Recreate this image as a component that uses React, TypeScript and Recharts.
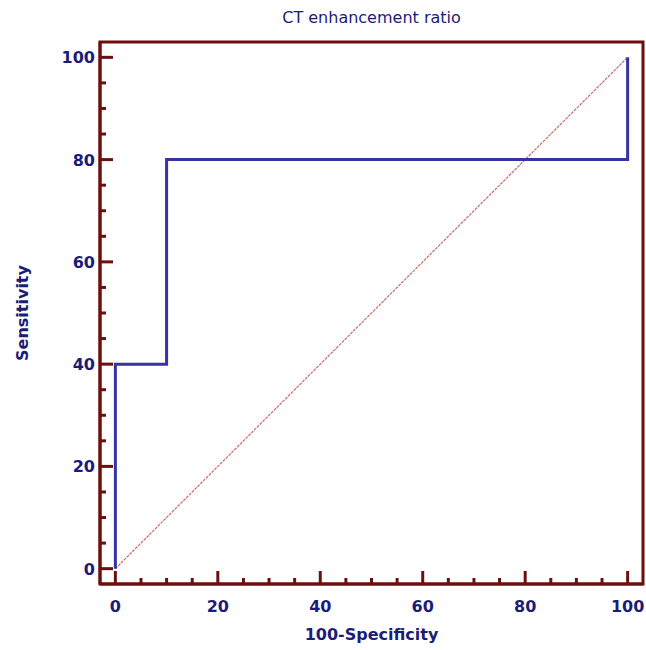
import { LineChart, Line, XAxis, YAxis, ReferenceArea } from 'recharts'

// ROC curve steps (100-Specificity, Sensitivity)
const rocX = [0, 0, 10, 10, 100, 100]
const rocY = [0, 40, 40, 80, 80, 100]
// chance line
const diagX = [0, 100]
const diagY = [0, 100]
const axisTicks = [0, 5, 10, 15, 20, 25, 30, 35, 40, 45, 50, 55, 60, 65, 70, 75, 80, 85, 90, 95, 100]
const axisMin = -3
const axisMax = 103

const rocData = rocX.map((x, i) => ({ x, y: rocY[i] }))
const diagData = diagX.map((x, i) => ({ x, y: diagY[i] }))

const FRAME = '#6e0f0f'
const INK = '#1c1c78'
const CURVE = '#3434a2'
const FONT = '"DejaVu Sans", Verdana, sans-serif'

function BottomTick({ x, y, payload }: any) {
  const v = payload.value
  const major = v % 20 === 0
  return (
    <g>
      <line x1={x} y1={y} x2={x} y2={y - (major ? 13 : 6)} stroke={FRAME} strokeWidth={3} />
      {major && (
        <text x={x} y={y + 28} textAnchor="middle" fill={INK} fontSize={16} fontWeight="bold" fontFamily={FONT}>
          {v}
        </text>
      )}
    </g>
  )
}

function LeftTick({ x, y, payload }: any) {
  const v = payload.value
  const major = v % 20 === 0
  return (
    <g>
      <line x1={x} y1={y} x2={x + (major ? 13 : 6)} y2={y} stroke={FRAME} strokeWidth={3} />
      {major && (
        <text x={x - 5} y={y + 6} textAnchor="end" fill={INK} fontSize={16} fontWeight="bold" fontFamily={FONT}>
          {v}
        </text>
      )}
    </g>
  )
}

export default function App() {
  return (
    <div style={{ position: 'absolute', left: 0, top: 0, width: 646, height: 650, background: '#fff' }}>
      <div
        style={{
          position: 'absolute',
          left: 100,
          width: 543,
          top: 8,
          textAlign: 'center',
          color: INK,
          fontFamily: FONT,
          fontSize: 16,
        }}
      >
        CT enhancement ratio
      </div>
      <LineChart width={646} height={650} margin={{ top: 42, right: 3, bottom: 26, left: 40 }}>
        <XAxis
          xAxisId="b"
          type="number"
          dataKey="x"
          domain={[axisMin, axisMax]}
          ticks={axisTicks}
          interval={0}
          allowDataOverflow
          height={40}
          tickSize={0}
          tickMargin={0}
          tickLine={false}
          axisLine={{ stroke: FRAME, strokeWidth: 3 }}
          tick={<BottomTick />}
          label={{
            value: '100-Specificity',
            position: 'insideBottom',
            offset: -16,
            fill: INK,
            fontSize: 16,
            fontWeight: 'bold',
            fontFamily: FONT,
          }}
        />
        <YAxis
          yAxisId="l"
          type="number"
          domain={[axisMin, axisMax]}
          ticks={axisTicks}
          interval={0}
          allowDataOverflow
          width={60}
          tickSize={0}
          tickMargin={0}
          tickLine={false}
          axisLine={{ stroke: FRAME, strokeWidth: 3 }}
          tick={<LeftTick />}
          label={{
            value: 'Sensitivity',
            angle: -90,
            position: 'insideLeft',
            offset: -18,
            style: { textAnchor: 'middle' },
            fill: INK,
            fontSize: 16,
            fontWeight: 'bold',
            fontFamily: FONT,
          }}
        />
        <ReferenceArea
          xAxisId="b"
          yAxisId="l"
          x1={axisMin}
          x2={axisMax}
          y1={axisMin}
          y2={axisMax}
          fill="none"
          stroke={FRAME}
          strokeWidth={3}
          ifOverflow="visible"
        />
        <Line
          xAxisId="b"
          yAxisId="l"
          data={diagData}
          dataKey="y"
          type="linear"
          stroke="#cc6a6a"
          strokeWidth={1.2}
          strokeDasharray="3 1"
          dot={false}
          isAnimationActive={false}
        />
        <Line
          xAxisId="b"
          yAxisId="l"
          data={rocData}
          dataKey="y"
          type="linear"
          stroke={CURVE}
          strokeWidth={3}
          dot={false}
          isAnimationActive={false}
        />
      </LineChart>
    </div>
  )
}
